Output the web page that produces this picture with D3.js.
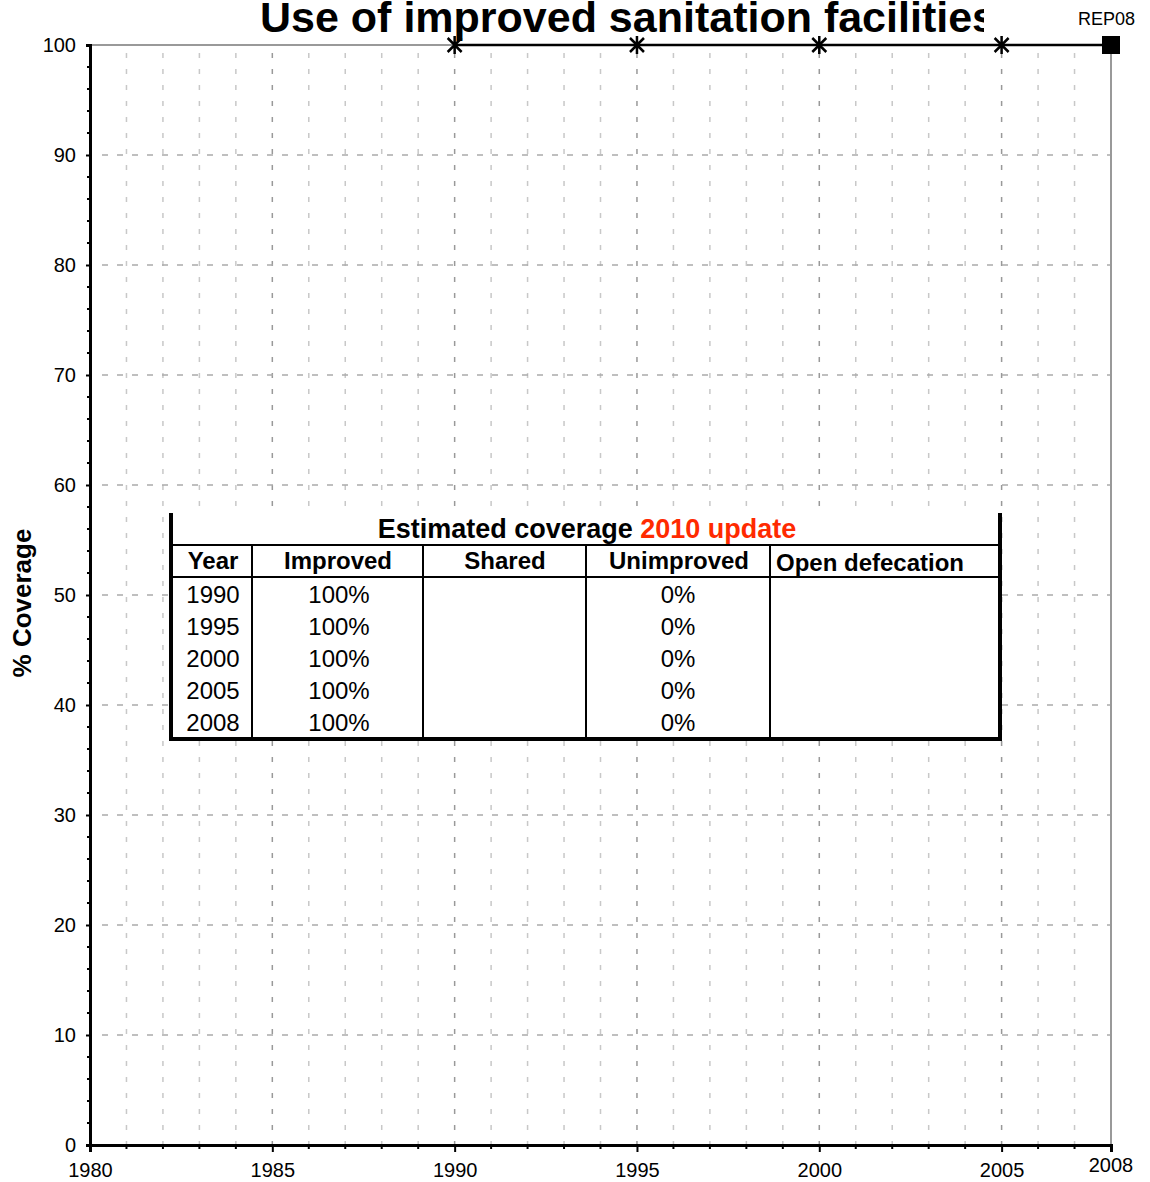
<!DOCTYPE html>
<html>
<head>
<meta charset="utf-8">
<script src="https://cdn.jsdelivr.net/npm/d3@7/dist/d3.min.js"></script>
<style>
  body { margin: 0; background: #fff; }
  text { font-family: Arial, "Liberation Sans", sans-serif; }
</style>
</head>
<body>
<script>
// data
var years = [1990, 1995, 2000, 2005, 2008];
var improved = [100, 100, 100, 100, 100];
var tableCols = ["Year", "Improved", "Shared", "Unimproved", "Open defecation"];
var tableImproved = ["100%", "100%", "100%", "100%", "100%"];
var tableShared = ["", "", "", "", ""];
var tableUnimproved = ["0%", "0%", "0%", "0%", "0%"];
var tableOpen = ["", "", "", "", ""];
var xTicks = [1980, 1985, 1990, 1995, 2000, 2005];
var yTicks = [0, 10, 20, 30, 40, 50, 60, 70, 80, 90, 100];

var width = 1150, height = 1182;
var svg = d3.select("body").append("svg")
    .attr("width", width).attr("height", height);

var x = d3.scaleLinear().domain([1980, 2008]).range([90, 1111]);
var y = d3.scaleLinear().domain([0, 100]).range([1145, 45]);

// grid
var allYears = d3.range(1981, 2008);
svg.append("g").selectAll("line").data(allYears).enter().append("line")
    .attr("x1", function(d) { return x(d); }).attr("x2", function(d) { return x(d); })
    .attr("y1", y(100)).attr("y2", y(0))
    .attr("stroke", function(d) { return d % 5 == 0 ? "#999" : "#c8c8c8"; })
    .attr("stroke-width", 1.5)
    .attr("stroke-dasharray", "5,11")
    .attr("stroke-dashoffset", -8);

svg.append("g").selectAll("line").data(yTicks.slice(1, 10)).enter().append("line")
    .attr("x1", x(1980) + 12).attr("x2", x(2008))
    .attr("y1", function(d) { return y(d); }).attr("y2", function(d) { return y(d); })
    .attr("stroke", "#aaa")
    .attr("stroke-width", 1.5)
    .attr("stroke-dasharray", "6,9");

// top & right frame (gray)
svg.append("line").attr("x1", x(1980)).attr("x2", x(2008))
    .attr("y1", y(100)).attr("y2", y(100))
    .attr("stroke", "#999").attr("stroke-width", 2);
svg.append("line").attr("x1", x(2008)).attr("x2", x(2008))
    .attr("y1", y(100)).attr("y2", y(0))
    .attr("stroke", "#999").attr("stroke-width", 2);

// axes
var yAxis = d3.axisLeft(y).tickValues(yTicks).tickSize(4).tickPadding(10);
var gy = svg.append("g").attr("transform", "translate(" + x(1980) + ",0)").call(yAxis);
gy.selectAll(".tick line").attr("stroke-width", 2);
gy.select(".domain").attr("stroke-width", 3);
gy.selectAll("text").attr("font-size", 20).attr("fill", "#000")
    .attr("font-family", "Arial, 'Liberation Sans', sans-serif");
var yMinor = d3.range(0, 101, 2).filter(function(d) { return d % 10 != 0; });
svg.append("g").selectAll("line").data(yMinor).enter().append("line")
    .attr("x1", x(1980) - 3).attr("x2", x(1980))
    .attr("y1", function(d) { return y(d); }).attr("y2", function(d) { return y(d); })
    .attr("stroke", "#000").attr("stroke-width", 2);

var xAxis = d3.axisBottom(x).tickValues(xTicks).tickFormat(d3.format("d")).tickSize(7).tickPadding(11);
var gx = svg.append("g").attr("transform", "translate(0," + y(0) + ")").call(xAxis);
gx.select(".domain").attr("stroke-width", 3);
gx.selectAll(".tick line").attr("stroke-width", 2);
gx.selectAll("text").attr("font-size", 20).attr("fill", "#000")
    .attr("font-family", "Arial, 'Liberation Sans', sans-serif");
svg.append("g").selectAll("line").data(allYears.filter(function(d) { return d % 5 != 0; }))
    .enter().append("line")
    .attr("x1", function(d) { return x(d); }).attr("x2", function(d) { return x(d); })
    .attr("y1", y(0)).attr("y2", y(0) + 4)
    .attr("stroke", "#000").attr("stroke-width", 2);
svg.append("text").attr("x", x(2008)).attr("y", 1172)
    .attr("text-anchor", "middle").attr("font-size", 20).text("2008");

// y label
svg.append("text")
    .attr("transform", "translate(31,603) rotate(-90)")
    .attr("text-anchor", "middle")
    .attr("font-size", 26).attr("font-weight", "bold")
    .text("% Coverage");

// series line
var line = d3.line().x(function(d, i) { return x(years[i]); }).y(function(d) { return y(d); });
svg.append("path").datum(improved).attr("d", line)
    .attr("fill", "none").attr("stroke", "#000").attr("stroke-width", 2.5);

// asterisk markers
var stars = svg.append("g").selectAll("g").data(improved.slice(0, 4)).enter().append("g")
    .attr("transform", function(d, i) { return "translate(" + x(years[i]) + "," + y(d) + ")"; });
stars.append("path")
    .attr("d", "M-7,-7L7,7M-7,7L7,-7M0,-9L0,9")
    .attr("stroke", "#000").attr("stroke-width", 2.5);
// square at last point
svg.append("rect")
    .attr("x", x(years[4]) - 9).attr("y", y(improved[4]) - 9)
    .attr("width", 18).attr("height", 18).attr("fill", "#000");

// title (clipped on the right like the original)
svg.append("clipPath").attr("id", "tclip").append("rect")
    .attr("x", 0).attr("y", 0).attr("width", 984).attr("height", 60);
svg.append("text")
    .attr("clip-path", "url(#tclip)")
    .attr("x", 628).attr("y", 32)
    .attr("text-anchor", "middle")
    .attr("font-size", 43).attr("font-weight", "bold")
    .text("Use of improved sanitation facilities");

svg.append("clipPath").attr("id", "rclip").append("rect")
    .attr("x", 0).attr("y", 0).attr("width", 1143).attr("height", 60);
svg.append("text")
    .attr("clip-path", "url(#rclip)")
    .attr("x", 1078).attr("y", 25)
    .attr("font-size", 18)
    .text("REP08");

// table
var colX = [171, 252, 423, 586, 770, 1000];
var rowY = d3.scaleBand().domain(d3.range(5)).range([577, 737]);
var tbl = svg.append("g");
tbl.append("rect").attr("x", colX[0]).attr("y", 513)
    .attr("width", colX[5] - colX[0]).attr("height", 739 - 513).attr("fill", "#fff");
tbl.append("text").attr("x", 587).attr("y", 538)
    .attr("text-anchor", "middle").attr("font-size", 27).attr("font-weight", "bold")
    .text("Estimated coverage ")
    .append("tspan").attr("fill", "#ff2a00").text("2010 update");

// horizontal rules
[545, 577].forEach(function(yy) {
  tbl.append("line").attr("x1", colX[0]).attr("x2", colX[5])
      .attr("y1", yy).attr("y2", yy).attr("stroke", "#000").attr("stroke-width", 2);
});
tbl.append("line").attr("x1", colX[0] - 1.5).attr("x2", colX[5] + 2)
    .attr("y1", 739).attr("y2", 739).attr("stroke", "#000").attr("stroke-width", 4);
// verticals
tbl.append("line").attr("x1", colX[0]).attr("x2", colX[0])
    .attr("y1", 513).attr("y2", 741).attr("stroke", "#000").attr("stroke-width", 4);
tbl.append("line").attr("x1", colX[5]).attr("x2", colX[5])
    .attr("y1", 513).attr("y2", 741).attr("stroke", "#000").attr("stroke-width", 4);
colX.slice(1, 5).forEach(function(cx) {
  tbl.append("line").attr("x1", cx).attr("x2", cx)
      .attr("y1", 545).attr("y2", 739).attr("stroke", "#000").attr("stroke-width", 2);
});

// header
var headX = [213, 338, 505, 679, 776];
tableCols.forEach(function(c, i) {
  tbl.append("text").attr("x", headX[i]).attr("y", i == 4 ? 571 : 569)
      .attr("text-anchor", i == 4 ? "start" : "middle")
      .attr("font-size", 24).attr("font-weight", "bold").text(c);
});

// body rows
var cols = [years.map(String), tableImproved, tableShared, tableUnimproved, tableOpen];
var cellX = [213, 339, 505, 678, 885];
cols.forEach(function(vals, ci) {
  tbl.append("g").selectAll("text").data(vals).enter().append("text")
      .attr("x", cellX[ci])
      .attr("y", function(d, i) { return rowY(i) + 26; })
      .attr("text-anchor", "middle")
      .attr("font-size", 24)
      .text(function(d) { return d; });
});
</script>
</body>
</html>
